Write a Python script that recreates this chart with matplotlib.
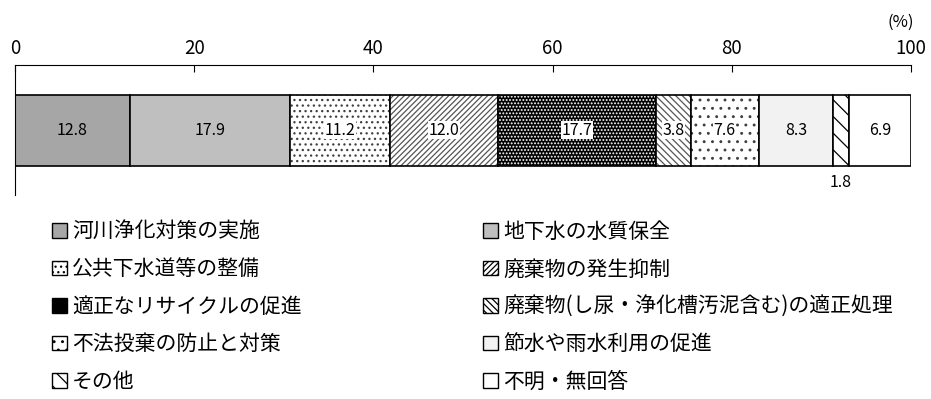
import matplotlib
matplotlib.use('Agg')
import matplotlib.pyplot as plt
from matplotlib.patches import Patch

plt.rcParams['font.family'] = ['Noto Sans CJK JP', 'DejaVu Sans']
plt.rcParams['hatch.linewidth'] = 0.9

categories = ['河川浄化対策の実施', '地下水の水質保全', '公共下水道等の整備', '廃棄物の発生抑制',
              '適正なリサイクルの促進', '廃棄物(し尿・浄化槽汚泥含む)の適正処理',
              '不法投棄の防止と対策', '節水や雨水利用の促進', 'その他', '不明・無回答']
values = [12.8, 17.9, 11.2, 12.0, 17.7, 3.8, 7.6, 8.3, 1.8, 6.9]
ticks = [0, 20, 40, 60, 80, 100]

# fill, hatch, hatch colour, label box
styles = [
    ('#a6a6a6', None, 'black', False),
    ('#bfbfbf', None, 'black', False),
    ('white', '...', '#404040', True),
    ('white', '//////', '#555555', True),
    ('black', '.....', 'white', True),
    ('white', '\\\\\\\\\\', '#555555', True),
    ('white', '..', '#404040', True),
    ('#f2f2f2', None, 'black', False),
    ('white', '\\\\', 'black', False),
    ('white', None, 'black', False),
]

fig = plt.figure(figsize=(9.31, 3.99), dpi=100)
ax = fig.add_axes([0.016, 0.511, 0.9625, 0.326])

left = 0
for v, (fc, h, hc, box) in zip(values, styles):
    if h:
        ax.barh(0.5, v, left=left, height=0.546, color=fc, hatch=h, edgecolor=hc, linewidth=0)
    else:
        ax.barh(0.5, v, left=left, height=0.546, color=fc, linewidth=0)
    ax.barh(0.5, v, left=left, height=0.546, fill=False, edgecolor='black', linewidth=1.2)
    if v < 3:
        ax.text(left + v / 2, 0.1, f'{v:.1f}', ha='center', va='center', fontsize=11.5)
    else:
        bb = dict(facecolor='white', edgecolor='none', pad=0.5) if box else None
        ax.text(left + v / 2, 0.5, f'{v:.1f}', ha='center', va='center', fontsize=11.5, bbox=bb)
    left += v

ax.set_xlim(0, 100)
ax.set_ylim(0, 1)
ax.xaxis.tick_top()
ax.set_xticks(ticks)
ax.tick_params(axis='x', direction='in', length=5, labelsize=13.5, pad=4)
ax.set_yticks([])
ax.spines['right'].set_visible(False)
ax.spines['bottom'].set_visible(False)
fig.text(0.968, 0.945, '(%)', ha='center', va='center', fontsize=12)

handles = []
for (fc, h, hc, box), lab in zip(styles, categories):
    handles.append(Patch(facecolor=fc, hatch=h, edgecolor='black', label=lab))

order_l = [0, 2, 4, 6, 8]
order_r = [1, 3, 5, 7, 9]
for order, x in [(order_l, 0.047), (order_r, 0.51)]:
    leg = fig.legend([handles[i] for i in order], [categories[i] for i in order],
                     loc='upper left', bbox_to_anchor=(x, 0.467), frameon=False,
                     fontsize=15, handlelength=0.7, handleheight=0.7,
                     handletextpad=0.25, labelspacing=0.74, borderaxespad=0)

fig.savefig('out.png', dpi=100)
